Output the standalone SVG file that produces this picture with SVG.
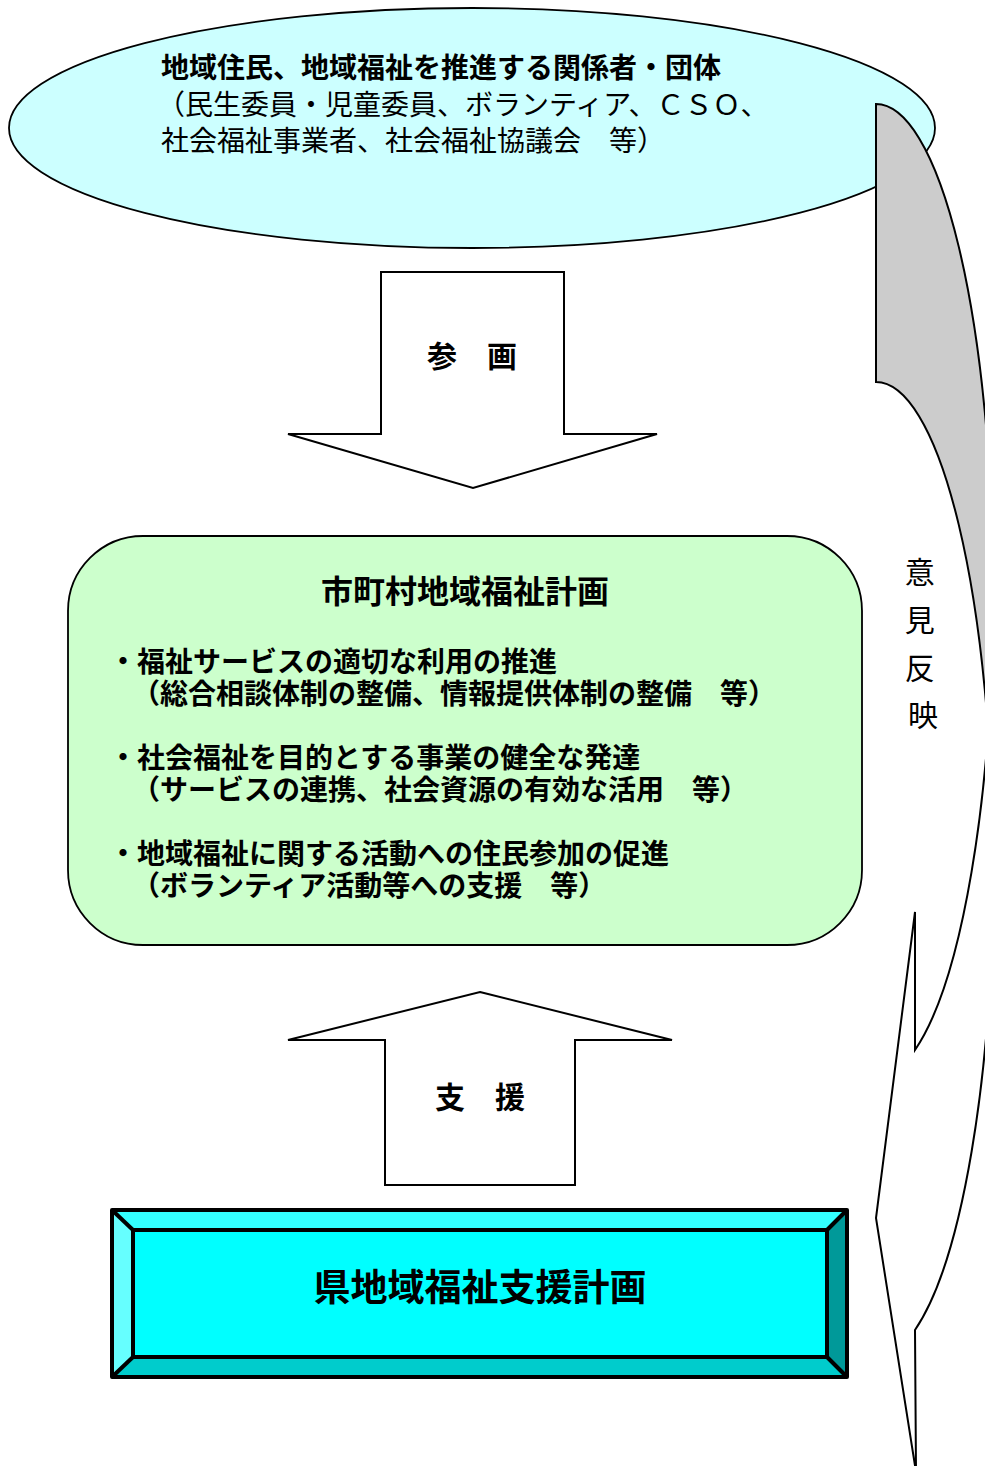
<svg xmlns="http://www.w3.org/2000/svg" width="985" height="1466" viewBox="0 0 985 1466">
<style>
  .t { font-family: "Noto Sans CJK JP", "Noto Sans CJK SC", sans-serif; fill: #000; }
  .b { font-weight: bold; }
  .ln { stroke: #000; stroke-width: 2; stroke-linejoin: miter; }
  .bev { stroke: #000; stroke-width: 4; stroke-linejoin: round; }
</style>
<rect x="0" y="0" width="985" height="1466" fill="#ffffff"/>

<g id="node-residents">
  <ellipse cx="472" cy="128" rx="463" ry="120" fill="#CCFFFF" stroke="#000" stroke-width="1.8"/>
  <text class="t" font-size="28">
    <tspan class="b" x="161" y="78">地域住民、地域福祉を推進する関係者・団体</tspan>
    <tspan x="157" y="115">（民生委員・児童委員、ボランティア、ＣＳＯ、</tspan>
    <tspan x="161" y="151">社会福祉事業者、社会福祉協議会　等）</tspan>
  </text>
</g>

<g id="node-municipal">
  <rect x="68" y="536" width="794" height="409" rx="75" ry="75" fill="#CCFFCC" stroke="#000" stroke-width="1.8"/>
  <text class="t b" x="465" y="603" font-size="32" text-anchor="middle">市町村地域福祉計画</text>
  <text class="t b" font-size="28">
    <tspan x="109" y="672">・福祉サービスの適切な利用の推進</tspan>
    <tspan x="132" y="704">（総合相談体制の整備、情報提供体制の整備　等）</tspan>
  </text>
  <text class="t b" font-size="28">
    <tspan x="109" y="768">・社会福祉を目的とする事業の健全な発達</tspan>
    <tspan x="132" y="800">（サービスの連携、社会資源の有効な活用　等）</tspan>
  </text>
  <text class="t b" font-size="28">
    <tspan x="109" y="864">・地域福祉に関する活動への住民参加の促進</tspan>
    <tspan x="132" y="896">（ボランティア活動等への支援　等）</tspan>
  </text>
</g>

<g id="node-prefecture">
  <polygon points="112,1210 847,1210 827,1230 133,1230" fill="#33FFFF"/>
  <polygon points="112,1210 133,1230 133,1357 112,1377" fill="#66FFFF"/>
  <polygon points="112,1377 133,1357 827,1357 847,1377" fill="#00CCCC"/>
  <polygon points="847,1210 847,1377 827,1357 827,1230" fill="#009999"/>
  <rect x="133" y="1230" width="694" height="127" fill="#00FFFF"/>
  <rect class="bev" x="112" y="1210" width="735" height="167" fill="none"/>
  <rect class="bev" x="133" y="1230" width="694" height="127" fill="none"/>
  <g class="bev" stroke-width="3">
    <line x1="112" y1="1210" x2="133" y2="1230"/>
    <line x1="847" y1="1210" x2="827" y2="1230"/>
    <line x1="112" y1="1377" x2="133" y2="1357"/>
    <line x1="847" y1="1377" x2="827" y2="1357"/>
  </g>
  <text class="t b" x="480" y="1301" font-size="37" text-anchor="middle">県地域福祉支援計画</text>
</g>

<g id="connectors">
  <g id="arrow-sankaku">
    <polygon class="ln" points="381,272 564,272 564,434 657,434 473,488 288,434 381,434" fill="#ffffff"/>
    <text class="t b" x="472" y="367" font-size="30" text-anchor="middle">参　画</text>
  </g>
  <g id="arrow-shien">
    <polygon class="ln" points="480,992 672,1040 575,1040 575,1185 385,1185 385,1040 288,1040" fill="#ffffff"/>
    <text class="t b" x="480" y="1108" font-size="30" text-anchor="middle">支　援</text>
  </g>
  <g id="arrow-iken">
    <path class="ln" d="M876,104 A117,487 0 0 1 993,591 L993,869 A117,487 0 0 0 876,382 Z" fill="#CCCCCC"/>
    <path class="ln" d="M993,591 A117,487 0 0 1 915,1050 L915,912 L876,1218 L916,1472 L915,1330 A117,487 0 0 0 993,869 Z" fill="#ffffff"/>
    <text class="t" font-size="30" text-anchor="middle">
      <tspan x="923" y="583">意</tspan>
      <tspan x="923" y="631">見</tspan>
      <tspan x="923" y="679">反</tspan>
      <tspan x="923" y="726">映</tspan>
    </text>
  </g>
</g>
</svg>
